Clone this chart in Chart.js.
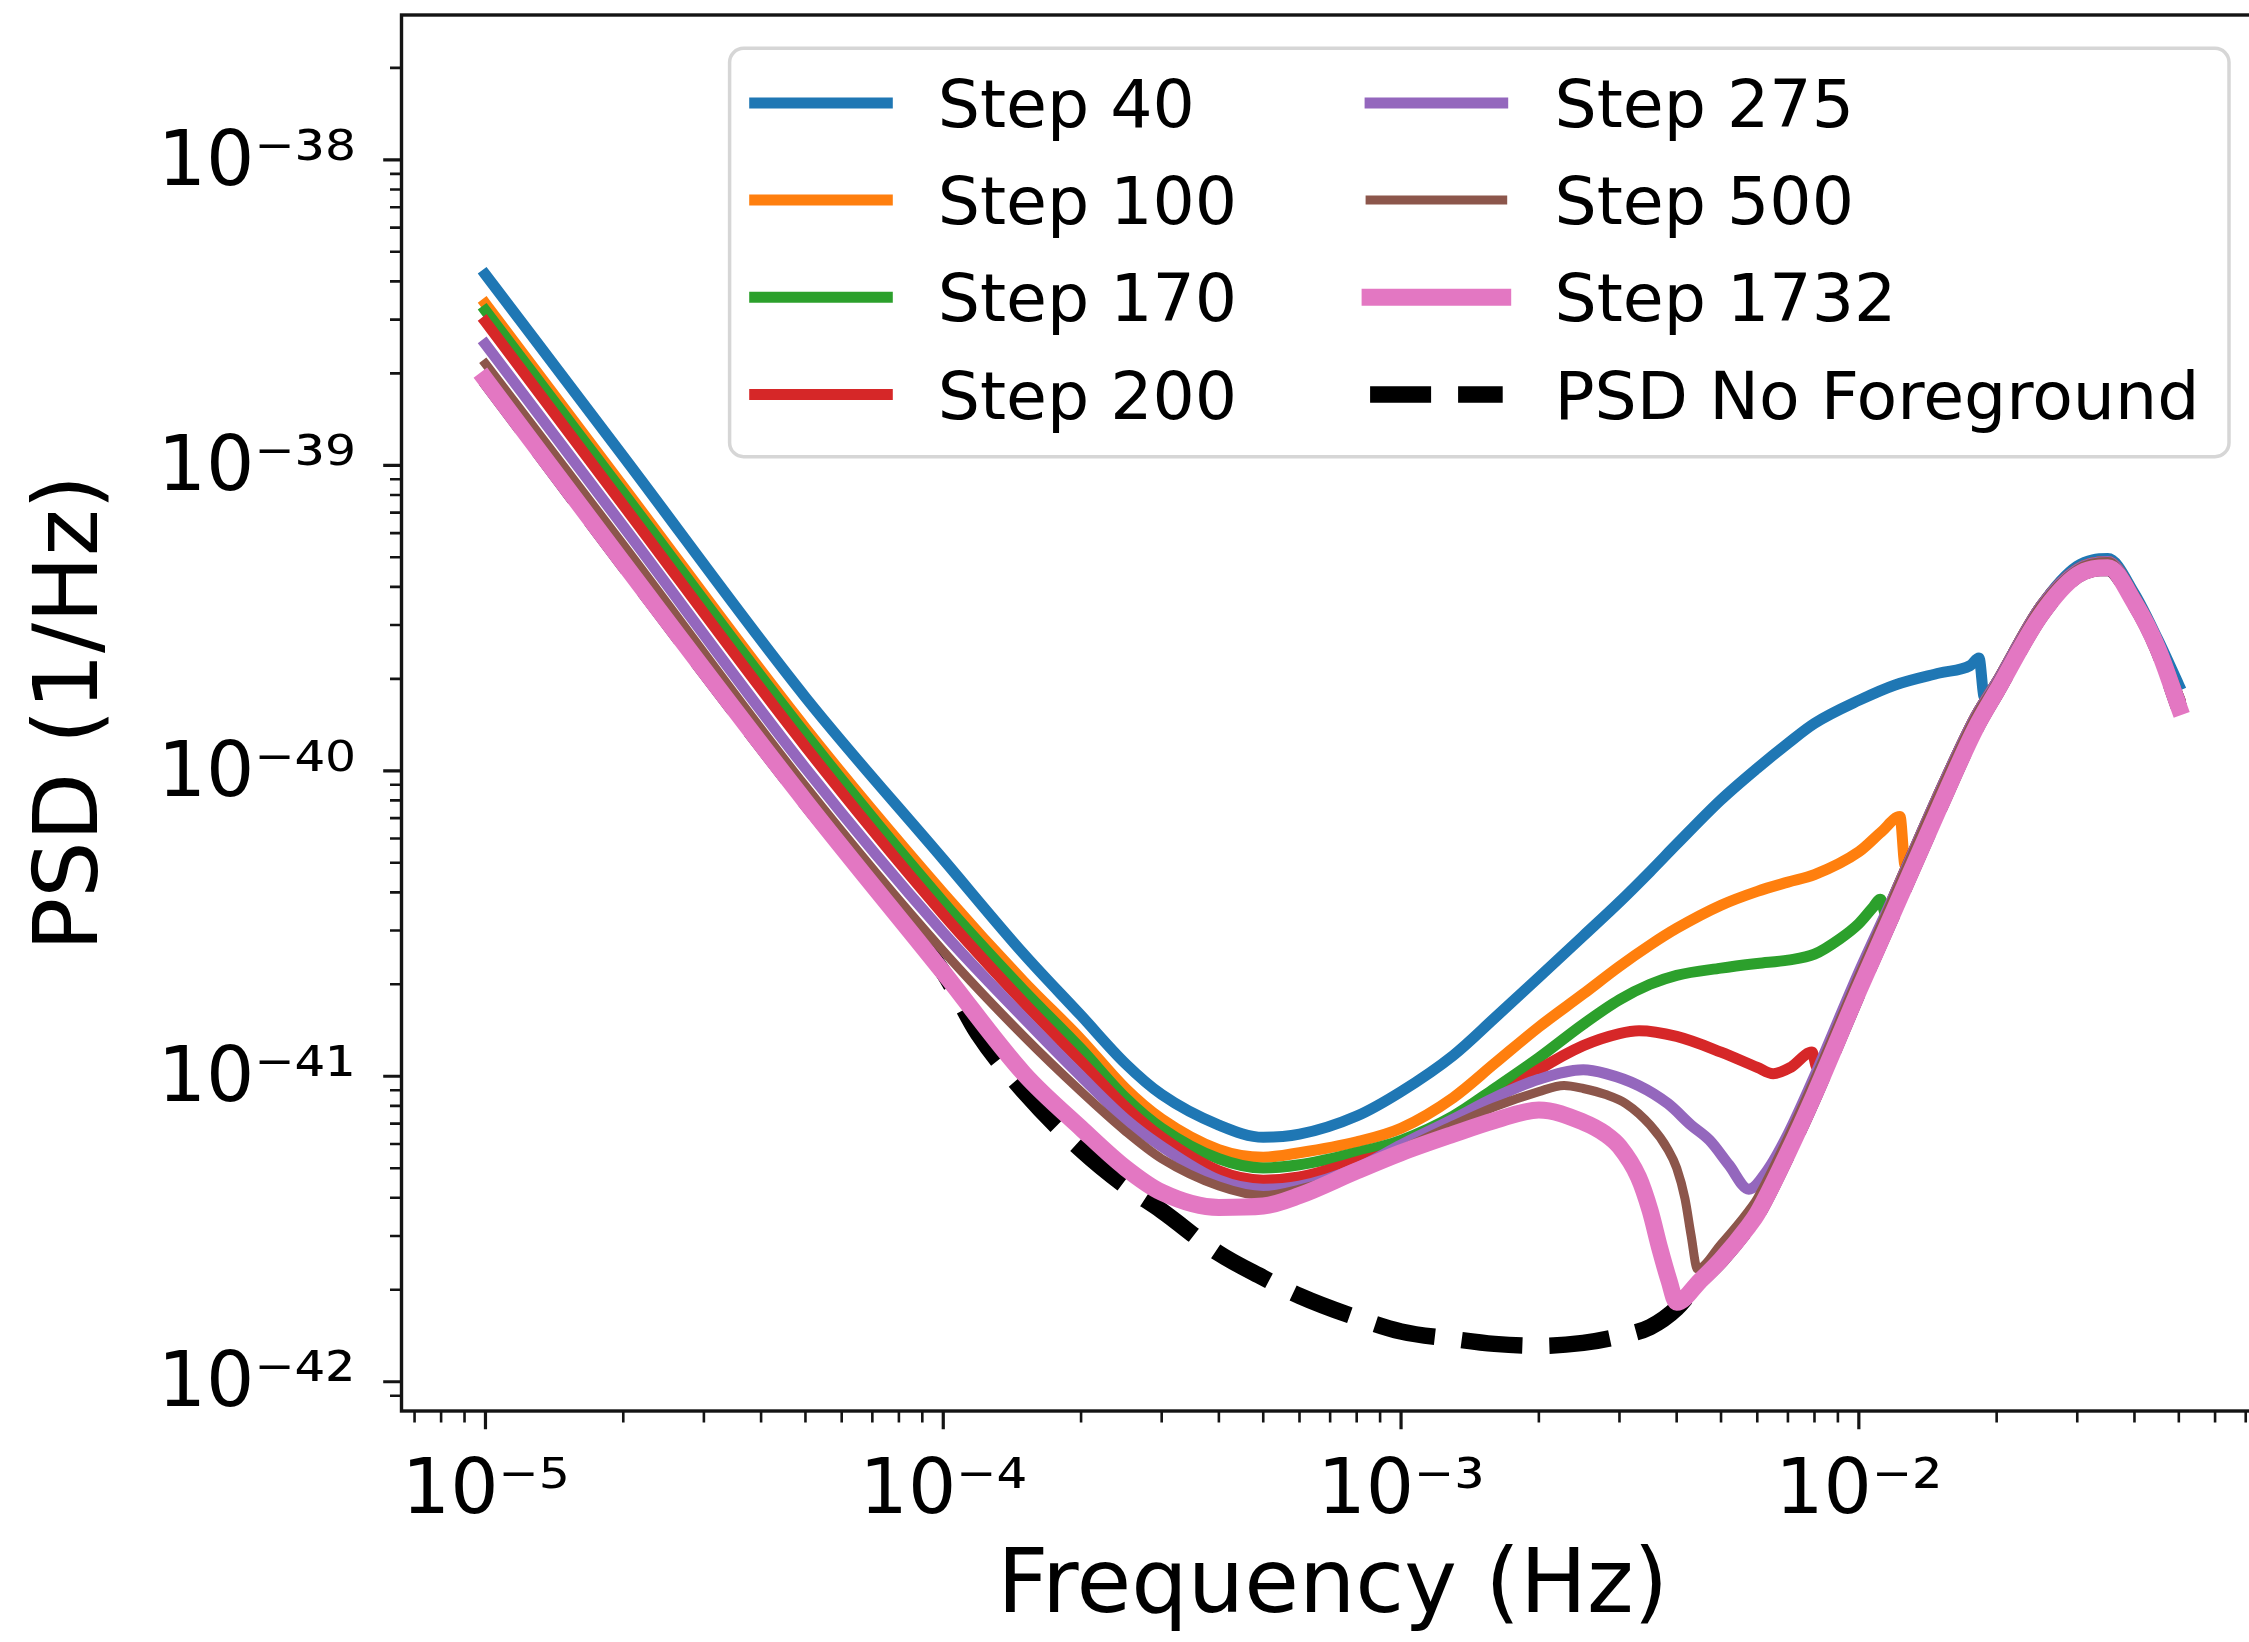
<!DOCTYPE html>
<html>
<head>
<meta charset="utf-8">
<script src="https://cdn.jsdelivr.net/npm/chart.js@4.4.1/dist/chart.umd.min.js"></script>
<style>
html, body { margin: 0; padding: 0; background: #ffffff; overflow: hidden; width: 2249px; height: 1642px; }
#wrap { position: absolute; left: 0; top: 0; width: 2280px; height: 1642px; }
canvas { display: block; }
</style>
</head>
<body>
<div id="wrap"><canvas id="c" width="2280" height="1642"></canvas></div>
<script>
// ---------------- data ----------------
const seriesLabels = ['Step 40', 'Step 100', 'Step 170', 'Step 200', 'Step 275', 'Step 500', 'Step 1732', 'PSD No Foreground'];
const seriesColors = ['#1f77b4', '#ff7f0e', '#2ca02c', '#d62728', '#9467bd', '#8c564b', '#e377c2', '#000000'];

const freq40 = [1e-5, 2e-5, 5e-5, 1e-4, 1.5e-4, 2e-4, 2.5e-4, 3e-4, 4e-4, 5e-4, 6e-4, 8e-4, 1e-3, 1.3e-3, 1.6e-3, 2e-3, 2.5e-3, 3e-3, 3.5e-3, 4e-3, 5e-3, 6e-3, 7e-3, 8e-3, 1e-2, 1.2e-2, 1.5e-2, 1.75e-2, 1.83e-2, 1.88e-2, 2e-2, 2.5e-2, 3e-2, 3.5e-2, 4e-2, 4.5e-2, 5e-2];
const psd40 = [4.21e-39, 1.07e-39, 1.74e-40, 5.13e-41, 2.51e-41, 1.58e-41, 1.10e-41, 8.71e-42, 6.92e-42, 6.31e-42, 6.46e-42, 7.41e-42, 8.91e-42, 1.17e-41, 1.55e-41, 2.11e-41, 2.88e-41, 3.72e-41, 4.68e-41, 5.75e-41, 8.04e-41, 1.02e-40, 1.23e-40, 1.43e-40, 1.70e-40, 1.91e-40, 2.09e-40, 2.21e-40, 2.34e-40, 1.74e-40, 1.95e-40, 3.47e-40, 4.68e-40, 4.95e-40, 3.80e-40, 2.69e-40, 1.91e-40];

const freq100 = [1e-5, 2e-5, 5e-5, 1e-4, 1.5e-4, 2e-4, 2.5e-4, 3e-4, 4e-4, 5e-4, 6e-4, 8e-4, 1e-3, 1.3e-3, 1.6e-3, 2e-3, 2.5e-3, 3e-3, 3.5e-3, 4e-3, 5e-3, 6e-3, 7e-3, 8e-3, 1e-2, 1.12e-2, 1.23e-2, 1.262e-2, 1.5e-2, 1.8e-2, 2e-2, 2.5e-2, 3e-2, 3.5e-2, 4e-2, 4.5e-2, 5e-2];
const psd100 = [3.38e-39, 8.51e-40, 1.38e-40, 3.98e-41, 2.04e-41, 1.32e-41, 9.12e-42, 7.24e-42, 5.75e-42, 5.43e-42, 5.62e-42, 6.10e-42, 6.76e-42, 8.51e-42, 1.10e-41, 1.45e-41, 1.86e-41, 2.29e-41, 2.69e-41, 3.05e-41, 3.63e-41, 4.03e-41, 4.32e-41, 4.57e-41, 5.43e-41, 6.31e-41, 7.08e-41, 4.90e-41, 8.51e-41, 1.51e-40, 1.95e-40, 3.47e-40, 4.57e-40, 4.84e-40, 3.72e-40, 2.63e-40, 1.74e-40];

const freq170 = [1e-5, 2e-5, 5e-5, 1e-4, 1.5e-4, 2e-4, 2.5e-4, 3e-4, 4e-4, 5e-4, 6e-4, 8e-4, 1e-3, 1.3e-3, 1.6e-3, 2e-3, 2.5e-3, 3e-3, 3.5e-3, 4e-3, 5e-3, 6e-3, 7e-3, 8e-3, 9.1e-3, 1e-2, 1.07e-2, 1.115e-2, 1.145e-2, 1.2e-2, 1.5e-2, 1.8e-2, 2e-2, 2.5e-2, 3e-2, 3.5e-2, 4e-2, 4.5e-2, 5e-2];
const psd170 = [3.21e-39, 8.13e-40, 1.32e-40, 3.72e-41, 1.91e-41, 1.23e-41, 8.51e-42, 6.76e-42, 5.37e-42, 5.01e-42, 5.13e-42, 5.62e-42, 6.17e-42, 7.41e-42, 9.12e-42, 1.15e-41, 1.48e-41, 1.78e-41, 2.00e-41, 2.14e-41, 2.26e-41, 2.34e-41, 2.40e-41, 2.51e-41, 2.82e-41, 3.16e-41, 3.55e-41, 3.80e-41, 3.39e-41, 3.98e-41, 8.51e-41, 1.51e-40, 1.95e-40, 3.47e-40, 4.57e-40, 4.84e-40, 3.72e-40, 2.63e-40, 1.74e-40];

const freq200 = [1e-5, 2e-5, 5e-5, 1e-4, 1.5e-4, 2e-4, 2.5e-4, 3e-4, 4e-4, 5e-4, 6e-4, 8e-4, 1e-3, 1.3e-3, 1.6e-3, 2e-3, 2.5e-3, 3e-3, 3.31e-3, 4e-3, 5e-3, 6e-3, 6.5e-3, 7.1e-3, 7.9e-3, 8.1e-3, 1e-2, 1.2e-2, 1.5e-2, 1.8e-2, 2e-2, 2.5e-2, 3e-2, 3.5e-2, 4e-2, 4.5e-2, 5e-2];
const psd200 = [2.95e-39, 7.41e-40, 1.20e-40, 3.39e-41, 1.74e-41, 1.12e-41, 7.94e-42, 6.31e-42, 4.90e-42, 4.57e-42, 4.68e-42, 5.25e-42, 5.75e-42, 6.92e-42, 8.32e-42, 1.05e-41, 1.26e-41, 1.38e-41, 1.41e-41, 1.35e-41, 1.20e-41, 1.07e-41, 1.02e-41, 1.07e-41, 1.20e-41, 1.07e-41, 2.14e-41, 3.98e-41, 8.51e-41, 1.51e-40, 1.95e-40, 3.47e-40, 4.57e-40, 4.84e-40, 3.72e-40, 2.63e-40, 1.74e-40];

const freq275 = [1e-5, 2e-5, 5e-5, 1e-4, 1.5e-4, 2e-4, 2.5e-4, 3e-4, 4e-4, 5e-4, 6e-4, 8e-4, 1e-3, 1.3e-3, 1.6e-3, 2e-3, 2.5e-3, 2.8e-3, 3.3e-3, 3.83e-3, 4.3e-3, 4.72e-3, 5.2e-3, 5.75e-3, 6.3e-3, 7e-3, 8e-3, 1e-2, 1.2e-2, 1.5e-2, 1.8e-2, 2e-2, 2.5e-2, 3e-2, 3.5e-2, 4e-2, 4.5e-2, 5e-2];
const psd275 = [2.49e-39, 6.31e-40, 1.02e-40, 2.95e-41, 1.55e-41, 1.00e-41, 7.24e-42, 5.89e-42, 4.57e-42, 4.27e-42, 4.37e-42, 5.01e-42, 5.96e-42, 7.24e-42, 8.51e-42, 9.77e-42, 1.05e-41, 1.02e-41, 9.33e-42, 8.13e-42, 6.92e-42, 6.17e-42, 5.13e-42, 4.27e-42, 4.90e-42, 6.46e-42, 1.00e-41, 2.19e-41, 3.98e-41, 8.51e-41, 1.51e-40, 1.95e-40, 3.47e-40, 4.57e-40, 4.84e-40, 3.72e-40, 2.63e-40, 1.74e-40];

const freq500 = [1e-5, 2e-5, 5e-5, 1e-4, 1.5e-4, 2e-4, 2.5e-4, 3e-4, 4e-4, 5e-4, 6e-4, 8e-4, 1e-3, 1.3e-3, 1.6e-3, 2e-3, 2.27e-3, 2.5e-3, 2.8e-3, 3.1e-3, 3.5e-3, 3.83e-3, 4e-3, 4.17e-3, 4.3e-3, 4.44e-3, 5e-3, 5.75e-3, 6e-3, 7e-3, 8e-3, 1e-2, 1.2e-2, 1.5e-2, 1.8e-2, 2e-2, 2.5e-2, 3e-2, 3.5e-2, 4e-2, 4.5e-2, 5e-2];
const psd500 = [2.15e-39, 5.50e-40, 8.91e-41, 2.57e-41, 1.35e-41, 8.91e-42, 6.61e-42, 5.37e-42, 4.37e-42, 4.07e-42, 4.27e-42, 4.90e-42, 5.75e-42, 6.92e-42, 7.94e-42, 8.91e-42, 9.33e-42, 9.12e-42, 8.71e-42, 8.13e-42, 6.92e-42, 5.75e-42, 5.01e-42, 3.98e-42, 3.02e-42, 2.34e-42, 2.82e-42, 3.63e-42, 3.98e-42, 6.31e-42, 9.77e-42, 2.14e-41, 3.98e-41, 8.51e-41, 1.51e-40, 1.95e-40, 3.47e-40, 4.57e-40, 4.84e-40, 3.72e-40, 2.63e-40, 1.74e-40];

const freq1732 = [1e-5, 2e-5, 5e-5, 1e-4, 1.5e-4, 2e-4, 2.5e-4, 3e-4, 4e-4, 5e-4, 6e-4, 8e-4, 1e-3, 1.3e-3, 1.6e-3, 2e-3, 2.5e-3, 2.8e-3, 3e-3, 3.3e-3, 3.5e-3, 3.67e-3, 3.85e-3, 4e-3, 4.5e-3, 5e-3, 5.75e-3, 6e-3, 7e-3, 8e-3, 1e-2, 1.2e-2, 1.5e-2, 1.8e-2, 2e-2, 2.5e-2, 3e-2, 3.5e-2, 4e-2, 4.5e-2, 5e-2];
const psd1732 = [1.91e-39, 4.79e-40, 7.94e-41, 2.19e-41, 1.02e-41, 6.76e-42, 5.01e-42, 4.17e-42, 3.72e-42, 3.76e-42, 4.07e-42, 4.90e-42, 5.62e-42, 6.46e-42, 7.16e-42, 7.76e-42, 7.08e-42, 6.46e-42, 5.89e-42, 4.68e-42, 3.63e-42, 2.75e-42, 2.14e-42, 1.82e-42, 2.14e-42, 2.51e-42, 3.24e-42, 3.55e-42, 5.62e-42, 8.71e-42, 1.91e-41, 3.55e-41, 7.59e-41, 1.38e-40, 1.82e-40, 3.24e-40, 4.37e-40, 4.62e-40, 3.55e-40, 2.51e-40, 1.62e-40];

const freqNoFg = [1e-5, 2e-5, 5e-5, 1e-4, 1.19e-4, 1.5e-4, 2e-4, 2.5e-4, 3e-4, 4e-4, 5e-4, 6e-4, 8e-4, 1e-3, 1.3e-3, 1.6e-3, 2e-3, 2.5e-3, 3e-3, 3.5e-3, 4e-3, 4.5e-3, 5e-3, 5.75e-3, 6e-3, 7e-3, 8e-3, 1e-2, 1.2e-2, 1.5e-2, 1.8e-2, 2e-2, 2.5e-2, 3e-2, 3.5e-2, 4e-2, 4.5e-2, 5e-2];
const psdNoFg = [1.91e-39, 4.79e-40, 7.94e-41, 2.19e-41, 1.38e-41, 8.91e-42, 5.75e-42, 4.37e-42, 3.63e-42, 2.63e-42, 2.19e-42, 1.91e-42, 1.62e-42, 1.46e-42, 1.38e-42, 1.33e-42, 1.31e-42, 1.34e-42, 1.41e-42, 1.51e-42, 1.74e-42, 2.14e-42, 2.51e-42, 3.24e-42, 3.55e-42, 5.62e-42, 8.71e-42, 1.91e-41, 3.55e-41, 7.59e-41, 1.38e-40, 1.82e-40, 3.24e-40, 4.37e-40, 4.62e-40, 3.55e-40, 2.51e-40, 1.62e-40];

const xTickValues = [1e-5, 1e-4, 1e-3, 1e-2];
const xTickLabels = ['10\u207B\u2075', '10\u207B\u2074', '10\u207B\u00B3', '10\u207B\u00B2'];
const yTickValues = [1e-42, 1e-41, 1e-40, 1e-39, 1e-38];
const yTickLabels = ['10\u207B\u2074\u00B2', '10\u207B\u2074\u00B9', '10\u207B\u2074\u2070', '10\u207B\u00B3\u2079', '10\u207B\u00B3\u2078'];
const xLimits = [6.555e-6, 0.07674];
const yLimits = [8.02e-43, 2.98e-38];
const xTitle = 'Frequency (Hz)';
const yTitle = 'PSD (1/Hz)';

// ---------------- chart ----------------
const FONT = 'DejaVu Sans';
const pts = (f, p) => f.map((x, i) => ({ x: x, y: p[i] }));
const freqs = [freq40, freq100, freq170, freq200, freq275, freq500, freq1732, freqNoFg];
const psds = [psd40, psd100, psd170, psd200, psd275, psd500, psd1732, psdNoFg];
const widths = [11, 11, 11, 11, 11, 9, 17, 16.5];
const drawOrder = [7, 6, 5, 4, 3, 2, 1, 8]; // higher = drawn lower

const datasets = seriesLabels.map((lab, i) => ({
  label: lab,
  data: pts(freqs[i], psds[i]),
  borderColor: seriesColors[i],
  backgroundColor: seriesColors[i],
  borderWidth: widths[i],
  borderDash: i === 7 ? [61, 27] : [],
  borderCapStyle: i === 7 ? 'butt' : 'square',
  borderJoinStyle: 'round',
  cubicInterpolationMode: 'monotone',
  pointRadius: 0,
  fill: false,
  order: drawOrder[i]
}));

const noPad = (s) => { s.paddingTop = 0; s.paddingBottom = 0; s.paddingLeft = 0; s.paddingRight = 0; };

const frameAndTicks = {
  id: 'frameAndTicks',
  afterDatasetsDraw(chart) {
    const ctx = chart.ctx, a = chart.chartArea;
    const xs = chart.scales.x, ys = chart.scales.y;
    ctx.save();
    ctx.strokeStyle = '#141414';
    ctx.lineCap = 'butt';
    const minorX = [], minorY = [];
    for (let e = -7; e <= -1; e++) for (let k = 2; k <= 9; k++) {
      const v = k * Math.pow(10, e);
      if (v >= xs.min && v <= xs.max) minorX.push(v);
    }
    for (let e = -43; e <= -37; e++) for (let k = 2; k <= 9; k++) {
      const v = k * Math.pow(10, e);
      if (v >= ys.min && v <= ys.max) minorY.push(v);
    }
    ctx.lineWidth = 2.6;
    ctx.beginPath();
    minorX.forEach(v => { const p = xs.getPixelForValue(v); ctx.moveTo(p, a.bottom); ctx.lineTo(p, a.bottom + 11.5); });
    minorY.forEach(v => { const p = ys.getPixelForValue(v); ctx.moveTo(a.left, p); ctx.lineTo(a.left - 11.5, p); });
    ctx.stroke();
    ctx.lineWidth = 3.2;
    ctx.beginPath();
    xTickValues.forEach(v => { const p = xs.getPixelForValue(v); ctx.moveTo(p, a.bottom); ctx.lineTo(p, a.bottom + 18.3); });
    yTickValues.forEach(v => { const p = ys.getPixelForValue(v); ctx.moveTo(a.left, p); ctx.lineTo(a.left - 18.3, p); });
    ctx.stroke();
    ctx.lineWidth = 3.4;
    ctx.strokeRect(a.left, a.top, a.right - a.left, a.bottom - a.top);
    ctx.restore();
  }
};

const legendBox = {
  id: 'legendBox',
  afterDraw(chart) {
    const ctx = chart.ctx;
    const ds = chart.data.datasets;
    const bx = 729.6, by = 48.3, bx2 = 2229, by2 = 456.7, r = 14;
    ctx.save();
    ctx.beginPath();
    ctx.moveTo(bx + r, by);
    ctx.lineTo(bx2 - r, by); ctx.arcTo(bx2, by, bx2, by + r, r);
    ctx.lineTo(bx2, by2 - r); ctx.arcTo(bx2, by2, bx2 - r, by2, r);
    ctx.lineTo(bx + r, by2); ctx.arcTo(bx, by2, bx, by2 - r, r);
    ctx.lineTo(bx, by + r); ctx.arcTo(bx, by, bx + r, by, r);
    ctx.closePath();
    ctx.fillStyle = 'rgba(255,255,255,0.8)';
    ctx.fill();
    ctx.lineWidth = 3.5;
    ctx.strokeStyle = '#d6d6d6';
    ctx.stroke();
    const cols = [[754.7, 887.3, 937.7], [1370.1, 1502.7, 1554.5]];
    ds.forEach((d, i) => {
      const col = Math.floor(i / 4), row = i % 4;
      const cy = 102.9 + row * 97.2;
      const c = cols[col];
      ctx.beginPath();
      ctx.moveTo(c[0], cy); ctx.lineTo(c[1], cy);
      ctx.lineWidth = d.borderWidth;
      ctx.strokeStyle = d.borderColor;
      ctx.setLineDash(d.borderDash || []);
      ctx.lineDashOffset = 0;
      ctx.lineCap = d.borderCapStyle;
      ctx.stroke();
      ctx.setLineDash([]);
      ctx.fillStyle = '#000000';
      ctx.font = '66.5px "' + FONT + '"';
      ctx.textAlign = 'left';
      ctx.textBaseline = 'alphabetic';
      ctx.fillText(d.label, c[2], cy + 24);
    });
    ctx.restore();
  }
};

new Chart(document.getElementById('c'), {
  type: 'line',
  data: { datasets: datasets },
  options: {
    responsive: false,
    maintainAspectRatio: false,
    animation: false,
    devicePixelRatio: 1,
    events: [],
    layout: { padding: { top: 15, right: 16, bottom: 0, left: 0 } },
    plugins: { legend: { display: false }, tooltip: { enabled: false } },
    elements: { point: { radius: 0 } },
    scales: {
      x: {
        type: 'logarithmic',
        min: xLimits[0], max: xLimits[1],
        afterFit(s) { s.height = 231; noPad(s); },
        afterBuildTicks(s) { s.ticks = xTickValues.map(v => ({ value: v })); },
        grid: { display: false },
        border: { display: false },
        ticks: {
          autoSkip: false, maxRotation: 0, minRotation: 0, padding: 29, color: '#000000',
          font: { family: FONT, size: 76 },
          callback: (v, i) => xTickLabels[i]
        },
        title: { display: true, text: xTitle, color: '#000000', font: { family: FONT, size: 89 }, padding: { top: 0, bottom: 0 } }
      },
      y: {
        type: 'logarithmic',
        min: yLimits[0], max: yLimits[1],
        afterFit(s) { s.width = 401.5; noPad(s); },
        afterBuildTicks(s) { s.ticks = yTickValues.map(v => ({ value: v })); },
        grid: { display: false },
        border: { display: false },
        ticks: {
          autoSkip: false, padding: 38, labelOffset: 5, color: '#000000',
          font: { family: FONT, size: 76 },
          callback: (v, i) => yTickLabels[i]
        },
        title: { display: true, text: yTitle, color: '#000000', font: { family: FONT, size: 89 }, padding: { top: 20, bottom: 0 } }
      }
    }
  },
  plugins: [frameAndTicks, legendBox]
});
</script>
</body>
</html>
